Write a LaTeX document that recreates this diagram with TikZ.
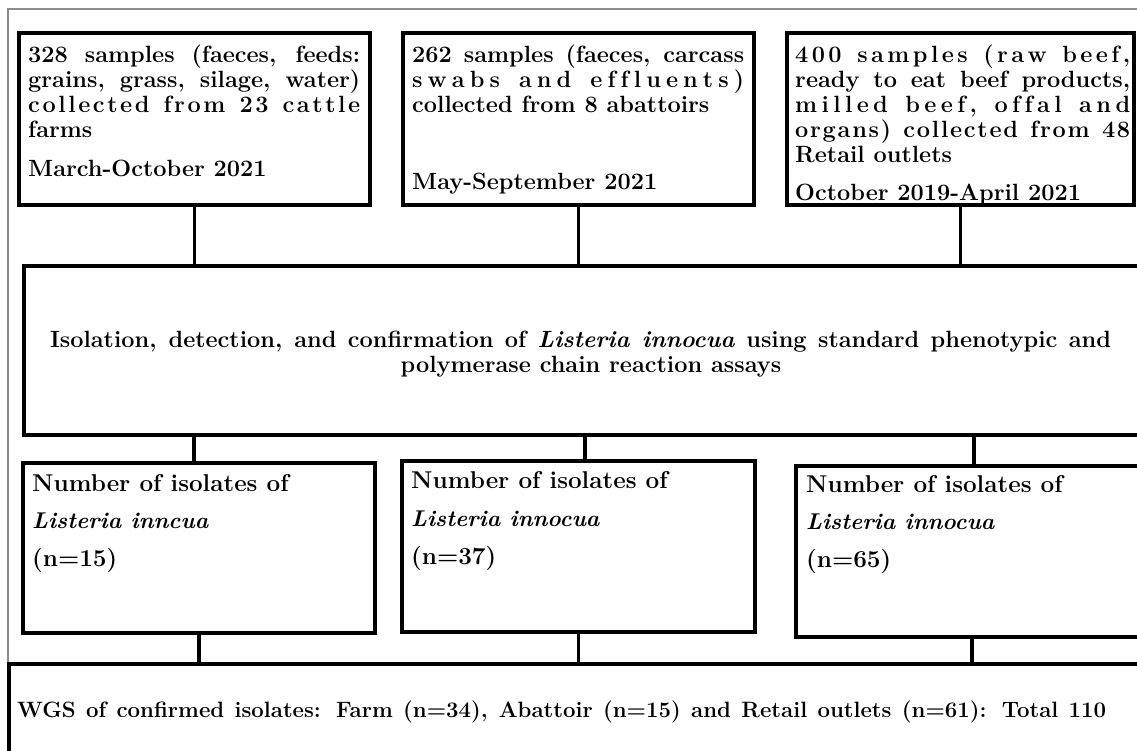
\documentclass[tikz,border=0pt]{standalone}
\usepackage{fontspec}
\usetikzlibrary{calc}
\newcommand\jst[2]{\makebox[#1][s]{#2}}
\makeatletter
\def\spr@stop{\spr@stop}
\newcommand\spreadtxt[1]{\hskip 0pt plus -1fil\relax\spr@a#1\spr@stop}
\def\spr@a{\futurelet\spr@next\spr@b}
\def\spr@b{%
  \ifx\spr@next\spr@stop \let\spr@do\spr@end
  \else\ifx\spr@next\@sptoken \let\spr@do\spr@space
  \else \let\spr@do\spr@char \fi\fi
  \spr@do}
\def\spr@char#1{\hskip 0pt plus 1fil\relax #1\spr@a}
\expandafter\def\expandafter\spr@space\space{\hskip 0pt plus 1fil\relax\space\spr@a}
\def\spr@end\spr@stop{}
\makeatother
\begin{document}
\begin{tikzpicture}[x=1pt,y=-1pt,
  box/.style={draw=black, line width=3.5pt, inner sep=0pt},
  conn/.style={draw=black, line width=3.5pt},
  txt/.style={anchor=base west, inner sep=0pt, font=\fontsize{23.5}{25}\selectfont\bfseries},
  rtxt/.style={anchor=base west, inner sep=0pt, font=\fontsize{24.3}{25}\selectfont\bfseries},
  itxt/.style={anchor=base west, inner sep=0pt, font=\fontsize{22.8}{25}\selectfont\bfseries\itshape},
  ctxt/.style={anchor=base, inner sep=0pt, font=\fontsize{23.5}{25}\selectfont\bfseries},
  wtxt/.style={anchor=base west, inner sep=0pt, font=\fontsize{22.2}{25}\selectfont\bfseries}]
\useasboundingbox (0,0) rectangle (1137,751);
\clip (0,0) rectangle (1137,751);
\fill[white] (0,0) rectangle (1137,751);
\draw[black!45, line width=1.3pt] (8,664) -- (8,9) -- (1140,9);
% top boxes
\node[box, minimum width=351pt, minimum height=172pt] (b1) at (194.5,119) {};
\node[box, minimum width=351pt, minimum height=172pt] (b2) at (578.5,119) {};
\node[box, minimum width=347pt, minimum height=172pt] (b3) at (960.5,119) {};
% middle box
\node[box, minimum width=1126pt, minimum height=169pt] (mid) at (587,350.5) {};
% row 3
\node[box, minimum width=352pt, minimum height=170pt] (ra) at (199,548) {};
\node[box, minimum width=353pt, minimum height=171pt] (rb) at (578.5,546.5) {};
\node[box, minimum width=352pt, minimum height=171pt] (rc) at (972,551.5) {};
% bottom box
\node[box, minimum width=1141pt, minimum height=111pt] (wgs) at (579.5,719.5) {};
% connectors
\draw[conn] (b1.south) -- (b1.south |- mid.north);
\draw[conn] (b2.south) -- (b2.south |- mid.north);
\draw[conn] (b3.south) -- (b3.south |- mid.north);
\draw[conn] ([xshift=-5pt]ra.north |- mid.south) -- ([xshift=-5pt]ra.north);
\draw[conn] ([xshift=6.5pt]rb.north |- mid.south) -- ([xshift=6.5pt]rb.north);
\draw[conn] ([xshift=2pt]rc.north |- mid.south) -- ([xshift=2pt]rc.north);
\draw[conn] (ra.south) -- (ra.south |- wgs.north);
\draw[conn] (rb.south) -- (rb.south |- wgs.north);
\draw[conn] (rc.south) -- (rc.south |- wgs.north);
% box 1 text
\node[txt] (t11) at (28,63) {\jst{332pt}{328 samples (faeces, feeds:}};
\node[txt] (t12) at (28,88) {\jst{332pt}{grains, grass, silage, water)}};
\node[txt] (t13) at (28,113) {\jst{332pt}{\spreadtxt{collected from 23 cattle}}};
\node[txt] (t14) at (28,138) {farms};
\node[txt] (t15) at (28,177) {March-October 2021};
% box 2 text
\node[txt] (t21) at (412,63) {\jst{332pt}{262 samples (faeces, carcass}};
\node[txt] (t22) at (412,88) {\jst{332pt}{\spreadtxt{swabs and effluents)}}};
\node[txt] (t23) at (412,113) {collected from 8 abattoirs};
\node[txt] (t24) at (412,190) {May-September 2021};
% box 3 text
\node[txt] (t31) at (795,63) {\jst{335pt}{\spreadtxt{400 samples (raw beef,}}};
\node[txt] (t32) at (795,88) {\jst{335pt}{ready to eat beef products,}};
\node[txt] (t33) at (795,113) {\jst{335pt}{\spreadtxt{milled beef, offal and}}};
\node[txt] (t34) at (795,138) {\jst{335pt}{\spreadtxt{organs) collected from 48}}};
\node[txt] (t35) at (795,163) {Retail outlets};
\node[txt] (t36) at (795,201) {October 2019-April 2021};
% middle text
\node[ctxt] (m1) at (580.5,347) {\jst{1061pt}{Isolation, detection, and confirmation of \textit{Listeria innocua} using standard phenotypic and}};
\node[ctxt] (m2) at (591,372) {polymerase chain reaction assays};
% row 3 text
\node[rtxt] (ra1) at (32,491) {Number of isolates of};
\node[itxt] (ra2) at (32,528) {Listeria inncua};
\node[rtxt] (ra3) at (32,566) {(n=15)};
\node[rtxt] (rb1) at (411,488) {Number of isolates of};
\node[itxt] (rb2) at (411,526) {Listeria innocua};
\node[rtxt] (rb3) at (411,564) {(n=37)};
\node[rtxt] (rc1) at (806,492) {Number of isolates of};
\node[itxt] (rc2) at (806,529) {Listeria innocua};
\node[rtxt] (rc3) at (806,567) {(n=65)};
% WGS text
\node[wtxt] (w1) at (17,717) {\jst{1089pt}{WGS of confirmed isolates: Farm (n=34), Abattoir (n=15) and Retail outlets (n=61): Total 110}};
\end{tikzpicture}
\end{document}
